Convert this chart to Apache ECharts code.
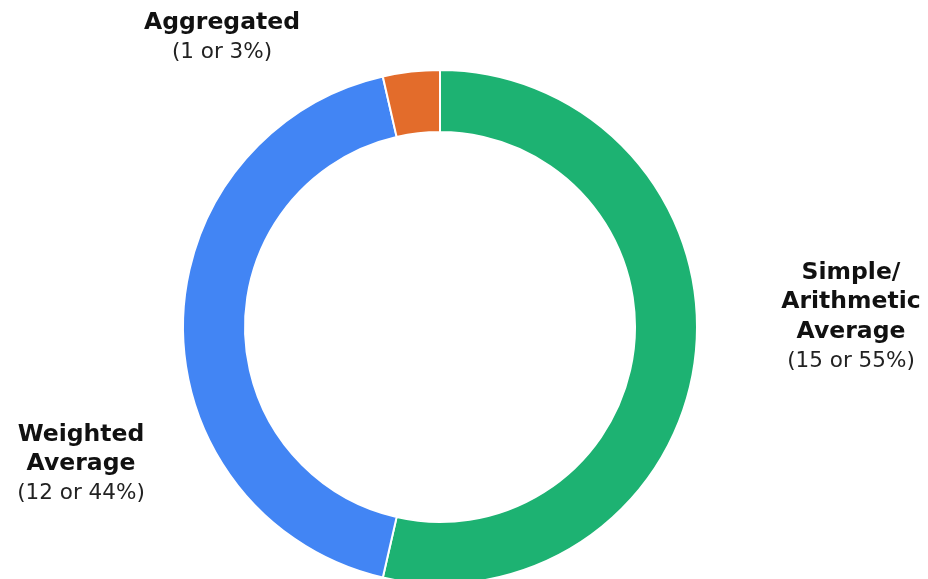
<!DOCTYPE html>
<html>
<head>
<meta charset="utf-8">
<script src="https://cdn.jsdelivr.net/npm/echarts@6/dist/echarts.min.js"></script>
<style>
html,body{margin:0;padding:0;background:#fff;}
#main{width:928px;height:579px;}
</style>
</head>
<body>
<div id="main"></div>
<script>
const categories = ['Simple/\nArithmetic\nAverage', 'Weighted\nAverage', 'Aggregated'];
const values = [15, 12, 1];
const percents = ['55%', '44%', '3%'];
const colors = ['#1db272', '#4285f4', '#e36c2b'];
const labelSpots = [[851, 317], [81, 464], [222, 38]];

const chart = echarts.init(document.getElementById('main'));
chart.setOption({
  animation: false,
  series: [{
    type: 'pie',
    center: [440, 327],
    radius: [195, 257],
    startAngle: 90,
    clockwise: true,
    avoidLabelOverlap: false,
    itemStyle: { borderColor: '#fff', borderWidth: 2 },
    labelLine: { show: false },
    label: {
      show: true,
      position: 'outside',
      overflow: 'none',
      edgeDistance: 0,
      bleedMargin: 0,
      formatter: function (p) {
        const title = p.name.split('\n').map(s => '{b|' + s + '}').join('\n');
        return title + '\n{r|(' + p.value + ' or ' + percents[p.dataIndex] + ')}';
      },
      rich: {
        b: { fontFamily: 'DejaVu Sans', fontWeight: 'bold', fontSize: 23.5, lineHeight: 29.5, color: '#111', align: 'center' },
        r: { fontFamily: 'DejaVu Sans', fontSize: 21.5, lineHeight: 29.5, color: '#222', align: 'center' }
      }
    },
    labelLayout: function (params) {
      const s = labelSpots[params.dataIndex];
      return { x: s[0], y: s[1], align: 'center', verticalAlign: 'middle' };
    },
    data: categories.map((c, i) => ({ name: c, value: values[i], itemStyle: { color: colors[i] } }))
  }]
});
</script>
</body>
</html>
